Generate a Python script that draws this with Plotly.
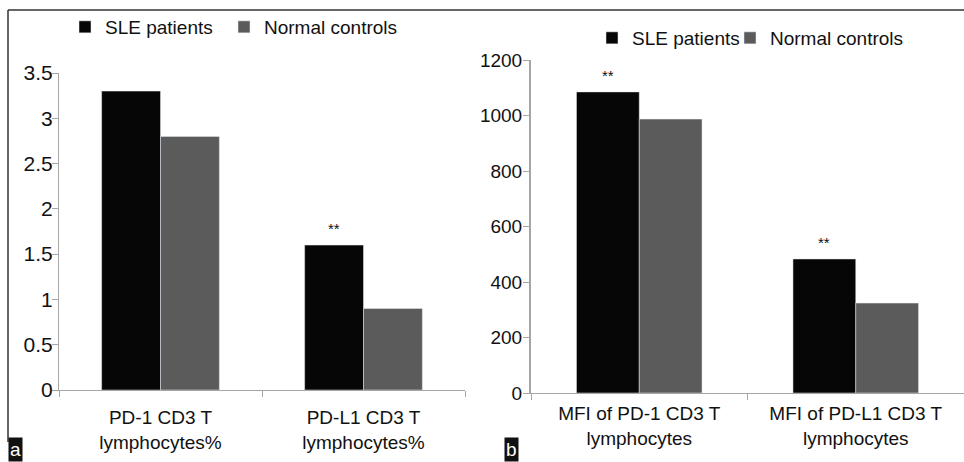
import plotly.graph_objects as go

# ---- data ----
cats_a = ["PD-1 CD3 T<br>lymphocytes%", "PD-L1 CD3 T<br>lymphocytes%"]
sle_a = [3.3, 1.6]
ctrl_a = [2.8, 0.9]
sig_a = ["", "**"]

cats_b = ["MFI of PD-1 CD3 T<br>lymphocytes", "MFI of PD-L1 CD3 T<br>lymphocytes"]
sle_b = [1085, 483]
ctrl_b = [987, 324]
sig_b = ["**", "**"]

ticks_a = [0, 0.5, 1, 1.5, 2, 2.5, 3, 3.5]
ticks_b = [0, 200, 400, 600, 800, 1000, 1200]

SLE_COLOR = "#060606"
CTRL_COLOR = "#5b5b5b"
FONT = "Arial, Liberation Sans, sans-serif"
W, H = 964, 462
BARGAP = 0.42

fig = go.Figure()
fig.add_trace(go.Bar(x=cats_a, y=sle_a, name="SLE patients", marker_color=SLE_COLOR,
                     xaxis="x", yaxis="y", legend="legend"))
fig.add_trace(go.Bar(x=cats_a, y=ctrl_a, name="Normal controls", marker_color=CTRL_COLOR,
                     xaxis="x", yaxis="y", legend="legend2"))
fig.add_trace(go.Bar(x=cats_b, y=sle_b, name="SLE patients", marker_color=SLE_COLOR,
                     xaxis="x2", yaxis="y2", legend="legend3"))
fig.add_trace(go.Bar(x=cats_b, y=ctrl_b, name="Normal controls", marker_color=CTRL_COLOR,
                     xaxis="x2", yaxis="y2", legend="legend4"))

def px(x):
    return x / W

def py(y):
    return (H - y) / H

axis_color = "#a6a6a6"
common_x = dict(type="category", tickson="boundaries", ticks="outside", ticklen=6,
                tickcolor=axis_color, showline=True, linecolor=axis_color, linewidth=1,
                showgrid=False, tickfont=dict(family=FONT, size=19, color="#111"),
                range=[-0.5, 1.5], fixedrange=True)
common_y = dict(ticks="outside", ticklen=6, tickcolor=axis_color, showline=True,
                linecolor=axis_color, showgrid=False, zeroline=False, fixedrange=True)

def leg(x_text, y_mid):
    return dict(orientation="h", x=px(x_text - 40), y=py(y_mid), xanchor="left", yanchor="middle",
                font=dict(family=FONT, size=19, color="#111"), bgcolor="rgba(0,0,0,0)",
                itemclick=False, itemdoubleclick=False)

fig.update_layout(
    width=W, height=H, margin=dict(l=0, r=0, t=0, b=0, autoexpand=False),
    paper_bgcolor="white", plot_bgcolor="white",
    barmode="group", bargap=BARGAP, bargroupgap=0,
    font=dict(family=FONT, size=19, color="#111"),
    xaxis=dict(domain=[px(59), px(465)], anchor="y", ticklabelstandoff=10, **common_x),
    yaxis=dict(domain=[py(390), py(73)], anchor="x", range=[0, 3.5],
               tickvals=ticks_a, ticktext=[f"{t:g}" for t in ticks_a], linewidth=1,
               tickfont=dict(family=FONT, size=21, color="#111"), ticklabelstandoff=-5, **common_y),
    xaxis2=dict(domain=[px(531), 1.0], anchor="y2", ticklabelstandoff=3, **common_x),
    yaxis2=dict(domain=[py(393), py(60)], anchor="x2", range=[0, 1200],
                tickvals=ticks_b, linewidth=2,
                tickfont=dict(family=FONT, size=19, color="#111"), ticklabelstandoff=-3, **common_y),
    legend=leg(105, 27),
    legend2=leg(264, 27),
    legend3=leg(632, 38),
    legend4=leg(770, 38),
    showlegend=True,
)

# significance markers above SLE bars
off = (1 - BARGAP) / 4
anns = []
for i, s in enumerate(sig_a):
    if s:
        anns.append(dict(x=i - off, y=sle_a[i], xref="x", yref="y", text=s, showarrow=False,
                         yanchor="bottom", yshift=6, font=dict(family=FONT, size=15, color="#111")))
for i, s in enumerate(sig_b):
    if s:
        anns.append(dict(x=i - off, y=sle_b[i], xref="x2", yref="y2", text=s, showarrow=False,
                         yanchor="bottom", yshift=6, font=dict(family=FONT, size=15, color="#111")))
# panel letters
for lab, x0 in [("a", 8), ("b", 504)]:
    anns.append(dict(x=px(x0), y=0, xref="paper", yref="paper", xanchor="left", yanchor="bottom",
                     text=lab, showarrow=False, bgcolor="#111", borderpad=1,
                     font=dict(family=FONT, size=19, color="white")))
fig.update_layout(annotations=anns)

# outer frame
fig.update_layout(shapes=[
    dict(type="line", xref="paper", yref="paper", x0=px(8), x1=1, y0=py(10), y1=py(10),
         line=dict(color="#333", width=1.5)),
    dict(type="line", xref="paper", yref="paper", x0=px(8), x1=px(8), y0=py(10), y1=py(442),
         line=dict(color="#333", width=1.5)),
])

fig.write_html("out.html", config={"displayModeBar": False},
               post_script="document.body.style.margin='0';document.body.style.overflow='hidden';")
